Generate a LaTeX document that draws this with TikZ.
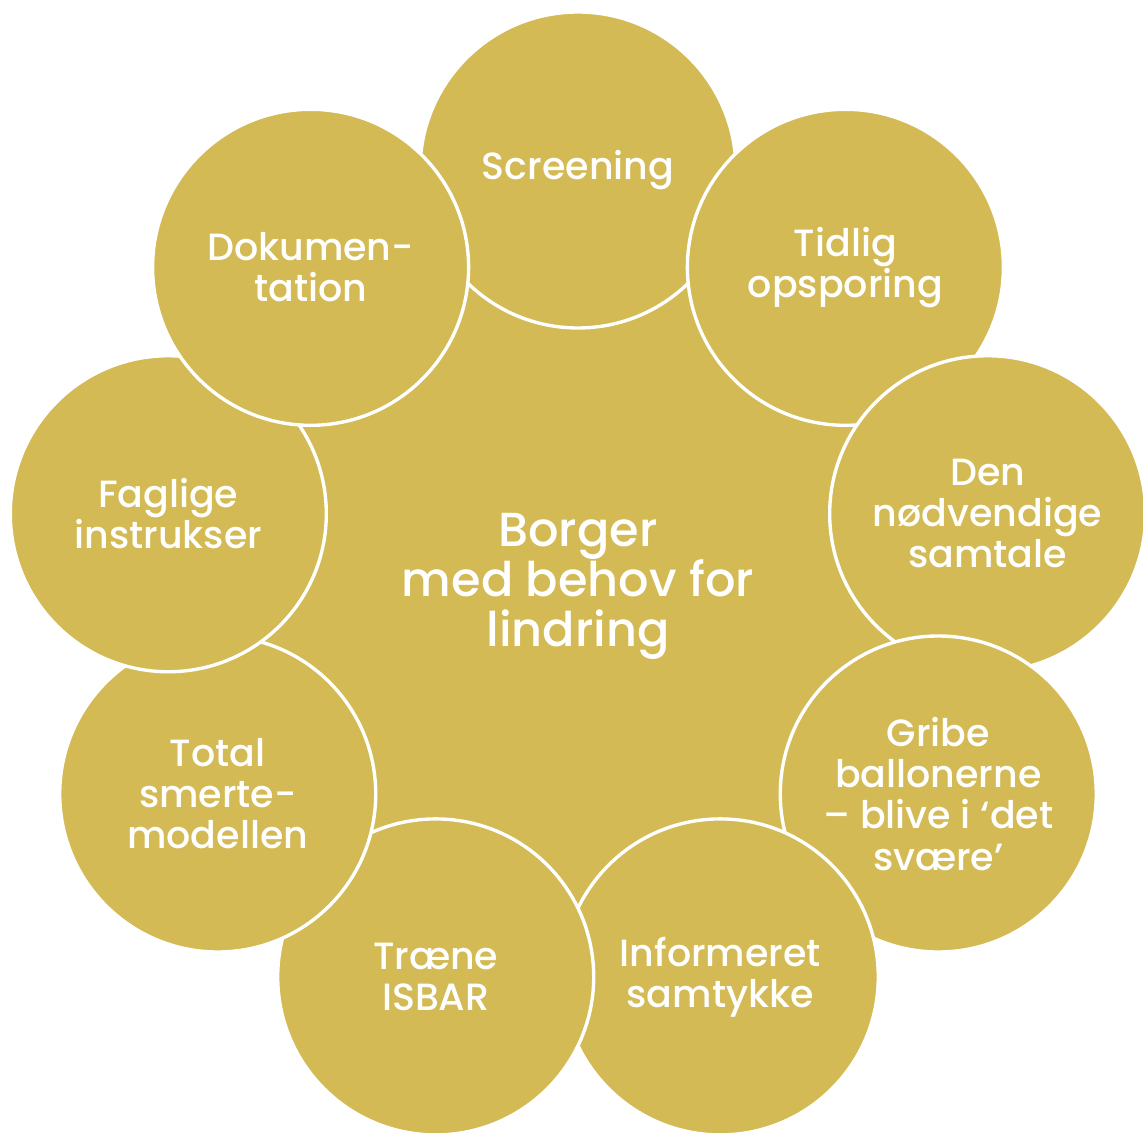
\documentclass[tikz,border=0pt]{standalone}
\usepackage{fontspec}
\setmainfont{Poppins}[UprightFont=* Medium]
\usepackage{tikz}

\definecolor{gold}{RGB}{211,186,85}

\begin{document}
\begin{tikzpicture}[
    every node/.style={font=\fontsize{27}{29.2}\selectfont, text=white, align=center},
    bubble/.style={circle, fill=gold, draw=white, line width=2.4pt, minimum size=7.9cm, inner sep=0pt},
    hub/.style={circle, fill=gold, draw=white, line width=2.4pt, minimum size=19cm, inner sep=0pt,
                font=\fontsize{34}{35.6}\selectfont}
]
\useasboundingbox (-14.45,-13.675) rectangle (14.125,14.65);

% Centre
\node[hub] (borger) at (0,0) {Borger\\med behov for\\lindring};

% Ring, clockwise from the top (each one overlaps the previous)
\node[bubble] (screening) at (90:10.4) {Screening};
\node[bubble] (tidlig) at (50:10.4) {Tidlig\\opsporing};
\node[bubble] (samtale) at (10:10.4) {Den\\nødvendige\\samtale};
\node[bubble] (gribe) at (-30:10.4) {Gribe\\ballonerne\\– blive i ‘det\\svære’};
\node[bubble] (samtykke) at (-70:10.4) {Informeret\\samtykke};
\node[bubble] (isbar) at (-110:10.4) {Træne\\ISBAR};
\node[bubble] (smerte) at (-150:10.4) {Total\\smerte-\\modellen};
\node[bubble] (instrukser) at (170:10.4) {Faglige\\instrukser};
\node[bubble] (dok) at (130:10.4) {Dokumen-\\tation};

\end{tikzpicture}
\end{document}
